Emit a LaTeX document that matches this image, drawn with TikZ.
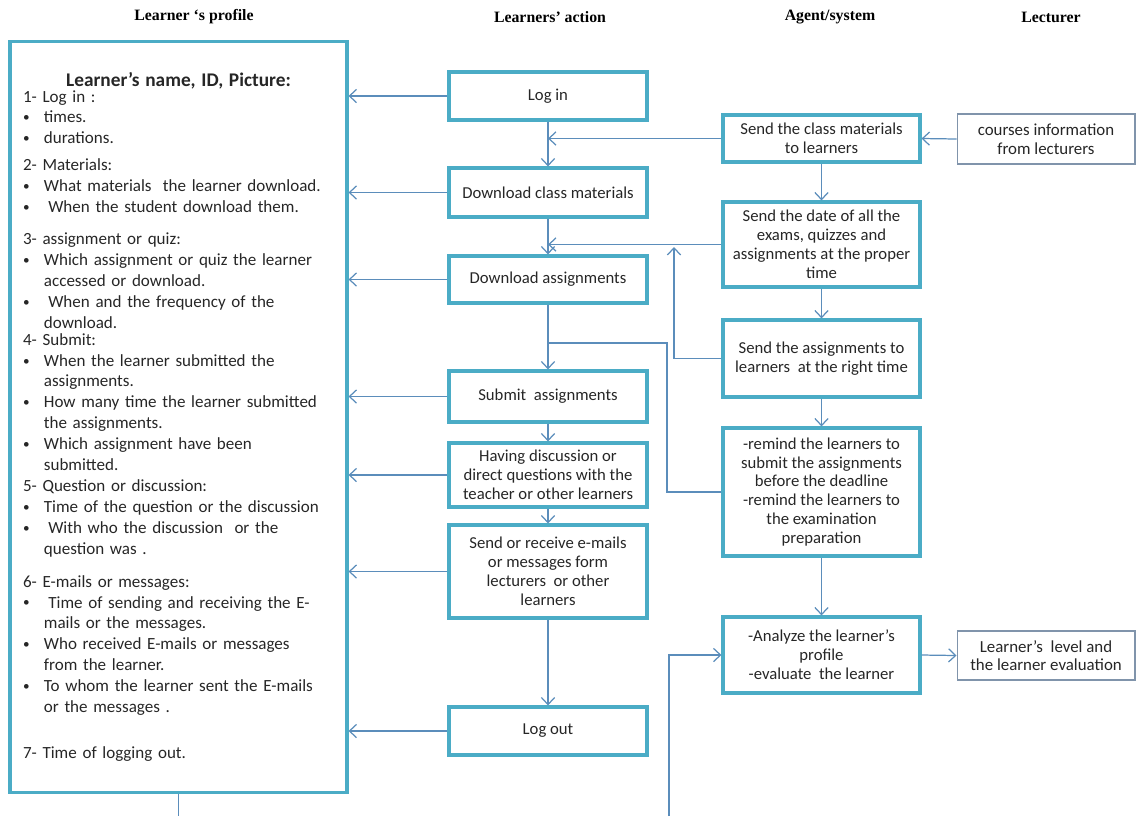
\documentclass[tikz,border=0pt]{standalone}
\usepackage{fontspec}
\setmainfont{Carlito}
\newfontfamily\headfont{Liberation Serif}
\usepackage{tikz}
\usetikzlibrary{arrows.meta, positioning, calc}
\definecolor{boxteal}{HTML}{4BACC6}
\definecolor{linkblue}{HTML}{5B8DBB}
\definecolor{thinframe}{HTML}{8094AB}
\definecolor{inktext}{HTML}{262626}
\newcommand{\bul}{\makebox[11.9pt][l]{\raisebox{0.6pt}{\fontsize{7.5}{8}\selectfont\textbullet}}}
\newcommand{\ind}{\hspace*{11.9pt}}
\tikzset{profile box/.style={draw=boxteal, line width=1.8pt, text width=177pt,
        inner xsep=6.8pt, align=left, minimum width=6.74cm, minimum height=15.02cm,
        font=\fontsize{9.7}{11.9}\selectfont, text=inktext},
    action box/.style={draw=boxteal, line width=1.8pt, minimum width=3.96cm,
        align=center, inner sep=2pt, font=\fontsize{9.5}{10.8}\selectfont, text=inktext},
    lecturer box/.style={draw=thinframe, line width=0.6pt, minimum width=3.56cm,
        align=center, inner sep=2pt, font=\fontsize{9.6}{10.7}\selectfont, text=inktext},
    flow link/.style={draw=linkblue, line width=0.7pt, -{Straight Barb[length=4pt,width=7.5pt]}},
    plain link/.style={draw=linkblue, line width=0.7pt},
    column head/.style={font=\headfont\bfseries\fontsize{9}{11}\selectfont}}

\begin{document}
\begin{tikzpicture}[x=0.02cm, y=-0.02cm]
    \useasboundingbox (0,0) rectangle (1141,816);

    % Column headings
    \node[column head] (hprofile) at (194,17) {Learner ‘s profile};
    \node[column head] (haction)  at (550,17) {Learners’ action};
    \node[column head] (hagent)   at (830,17) {Agent/system};
    \node[column head] (hlect)    at (1051,17) {Lecturer};

    % Learner's profile
    \node[profile box] (profile) at (178.5,417) {%
        \makebox[\linewidth]{\bfseries\fontsize{11}{11.9}\selectfont Learner’s name, ID, Picture:}\\[-3.2pt]
        1- Log in :\\
        \bul times.\\
        \bul durations.\\[3.5pt]
        2- Materials:\\
        \bul What materials\ \ the learner download.\\
        \bul \hspace{2.5pt}When the student download them.\\[6.3pt]
        3- assignment or quiz:\\
        \bul Which assignment or quiz the learner\\
        \ind accessed or download.\\
        \bul \hspace{2.5pt}When and the frequency of the\\
        \ind download.\\[-2.3pt]
        4- Submit:\\
        \bul When the learner submitted the\\
        \ind assignments.\\
        \bul How many time the learner submitted\\
        \ind the assignments.\\
        \bul Which assignment have been\\
        \ind submitted.\\
        5- Question or discussion:\\
        \bul Time of the question or the discussion\\
        \bul \hspace{2.5pt}With who the discussion\ \ or the\\
        \ind question was .\\[6.8pt]
        6- E-mails or messages:\\
        \bul \hspace{2.5pt}Time of sending and receiving the E-\\
        \ind mails or the messages.\\
        \bul Who received E-mails or messages\\
        \ind from the learner.\\
        \bul To whom the learner sent the E-mails\\
        \ind or the messages .\\[14.2pt]
        7- Time of logging out.};

    % Learners' action
    \node[action box, minimum height=0.96cm] (login)   at (548,96)    {Log in};
    \node[action box, minimum height=0.98cm] (dlmat)   at (548,192.5) {Download class materials};
    \node[action box, minimum height=0.94cm] (dlasg)   at (548,279.5) {Download assignments};
    \node[action box, minimum height=1.02cm] (submit)  at (548,396.5) {Submit\ \ assignments};
    \node[action box, minimum height=1.28cm] (discuss) at (548,475)
        {Having discussion or\\direct questions with the\\teacher or other learners};
    \node[action box, minimum height=1.86cm] (email)   at (548,571.5)
        {Send or receive e-mails\\or messages form\\lecturers\ \ or other\\learners};
    \node[action box, minimum height=0.96cm] (logout)  at (548,731)   {Log out};

    % Agent/system
    \node[action box, minimum width=3.94cm, minimum height=0.94cm] (sendmat) at (821.5,138.5)
        {Send the class materials\\to learners};
    \node[action box, minimum width=3.94cm, minimum height=1.70cm] (senddate) at (821.5,244.5)
        {Send the date of all the\\exams, quizzes and\\assignments at the proper\\time};
    \node[action box, minimum width=3.94cm, minimum height=1.54cm] (sendasg) at (821.5,358.5)
        {Send the assignments to\\learners\ \ at the right time};
    \node[action box, minimum width=3.94cm, minimum height=2.56cm] (remind) at (821.5,492)
        {-remind the learners to\\submit the assignments\\before the deadline\\-remind the learners to\\the examination\\preparation};
    \node[action box, minimum width=3.94cm, minimum height=1.52cm] (analyze) at (821.5,655)
        {-Analyze the learner's\\profile\\-evaluate\ \ the learner};

    % Lecturer
    \node[lecturer box, minimum height=1.0cm]  (courses) at (1046,139)
        {courses information\\from lecturers};
    \node[lecturer box, minimum height=0.98cm] (level)   at (1046,655.5)
        {Learner’s\ \ level and\\the learner evaluation};

    % Actions recorded in the profile
    \foreach \act in {login,dlmat,dlasg,submit,discuss,email,logout}
        \draw[flow link] (\act.west) -- (\act.west -| profile.east);

    % Sequence of actions
    \draw[flow link] (login.south)   -- (dlmat.north);
    \draw[flow link] (dlmat.south)   -- (dlasg.north);
    \draw[flow link] (dlasg.south)   -- (submit.north);
    \draw[flow link] (submit.south)  -- (discuss.north);
    \draw[flow link] (discuss.south) -- (email.north);
    \draw[flow link] (email.south)   -- (logout.north);

    % Agent steps
    \draw[flow link] (courses.west)  -- (sendmat.east);
    \draw[flow link] (sendmat.south) -- (senddate.north);
    \draw[flow link] (senddate.south) -- (sendasg.north);
    \draw[flow link] (sendasg.south) -- (remind.north);
    \draw[flow link] (remind.south)  -- (analyze.north);
    \draw[flow link] (analyze.east)  -- (level.west);

    % Agent feeding the action column
    \coordinate (asgup)   at (674,247);
    \coordinate (remturn) at (667,343);
    \coordinate (remjoin) at (548,343);
    \coordinate (feedin)  at (669,816);
    \draw[flow link] (sendmat.west)  -- (sendmat.west -| login.south);
    \draw[flow link] (senddate.west) -- (senddate.west -| dlmat.south);
    \draw[flow link] (sendasg.west) -| (asgup);
    \draw[plain link] (remind.west) -| (remturn) -- (remjoin);
    \draw[flow link] (feedin) |- (analyze.west);
    \draw[plain link] (profile.south) -- (profile.south |- feedin);
\end{tikzpicture}
\end{document}
